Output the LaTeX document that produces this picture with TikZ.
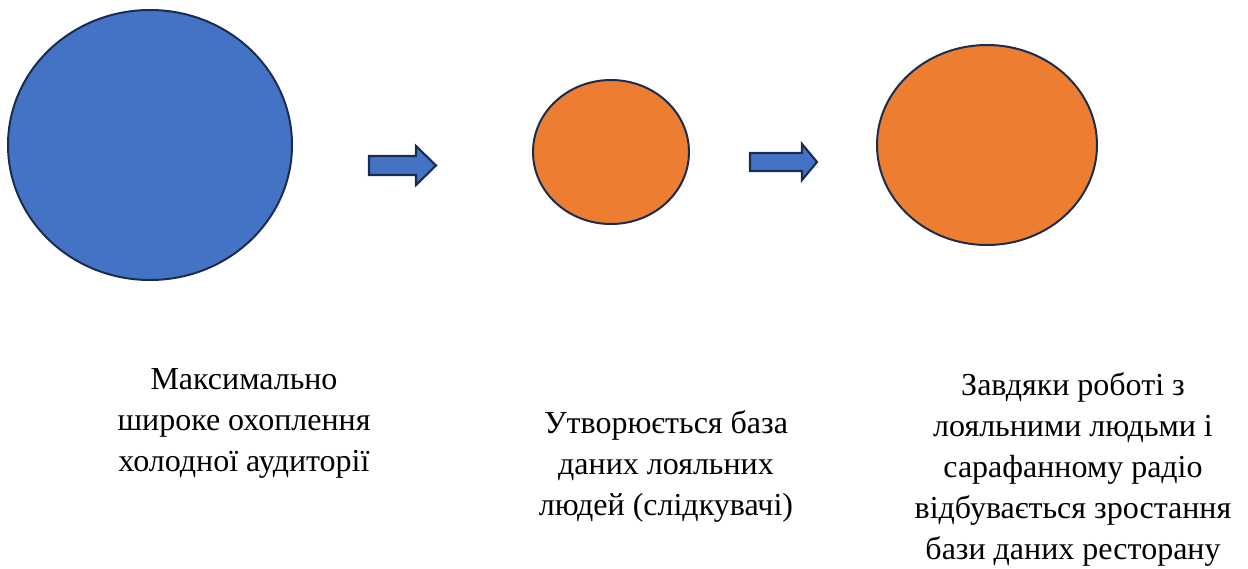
\documentclass[tikz,border=0pt]{standalone}
\usepackage{fontspec}
\setmainfont{Liberation Serif}
\definecolor{blobblue}{HTML}{4472C4}
\definecolor{bloborange}{HTML}{ED7D31}
\definecolor{edgenavy}{HTML}{1B2D4F}
\tikzset{
  blob/.style={draw=edgenavy, line width=1.5pt},
  blockarrow/.style={draw=edgenavy, line width=1.6pt, fill=blobblue, line join=miter},
  % anchor=base sits on the last line of a multi-line node
  caption/.style={align=center, inner sep=0pt, anchor=base,
    font=\fontsize{24}{30.75}\selectfont}
}
\begin{document}
\begin{tikzpicture}[x=0.75pt, y=-0.75pt]
  \useasboundingbox (0,0) rectangle (1248,568);

  % three stages
  \draw[blob, fill=blobblue] (150,145) ellipse [x radius=142, y radius=135];
  \draw[blob, fill=bloborange] (611,152) ellipse [x radius=78, y radius=72];
  \draw[blob, fill=bloborange] (987,145) ellipse [x radius=110, y radius=100];

  % block arrows between the stages
  \draw[blockarrow] (369,156) -- (416,156) -- (416,146) -- (436,165.5)
    -- (416,185) -- (416,175) -- (369,175) -- cycle;
  \draw[blockarrow] (750,153) -- (802,153) -- (802,144) -- (817,162)
    -- (802,180) -- (802,171) -- (750,171) -- cycle;

  % captions
  \node[caption] (c1) at (244,471)
    {Максимально\\широке охоплення\\холодної аудиторії};
  \node[caption] (c2) at (666,515)
    {Утворюється база\\даних лояльних\\людей (слідкувачі)};
  \node[caption] (c3) at (1073,559)
    {Завдяки роботі з\\лояльними людьми і\\сарафанному радіо\\відбувається зростання\\бази даних ресторану};
\end{tikzpicture}
\end{document}
